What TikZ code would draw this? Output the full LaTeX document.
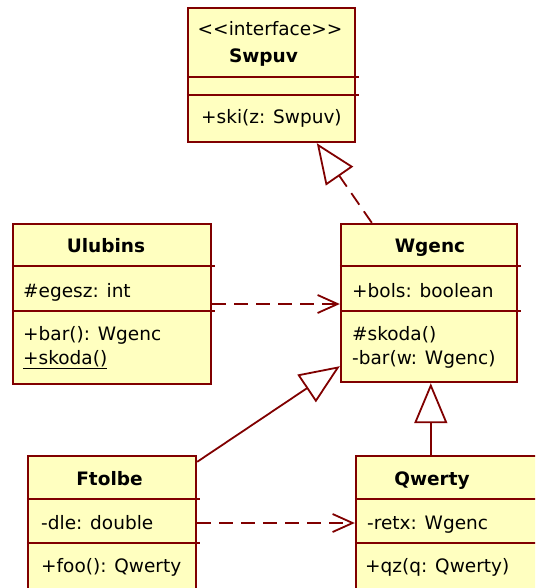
\documentclass[tikz,border=0pt]{standalone}
\usepackage{fontspec}
\setmainfont{DejaVu Sans}
\usetikzlibrary{calc,arrows.meta}
\definecolor{umlred}{RGB}{128,0,0}
\definecolor{umlfill}{RGB}{255,255,192}

\begin{document}
\begin{tikzpicture}[x=1pt,y=-1pt,
    classbox/.style={draw=umlred,fill=umlfill,line width=2.4pt,inner sep=0pt},
    compline/.style={umlred,line width=2.4pt},
    member/.style={anchor=base west,inner sep=0pt,font=\fontsize{18.5pt}{22pt}\selectfont},
    classname/.style={anchor=base,inner sep=0pt,font=\fontsize{18.5pt}{22pt}\selectfont\bfseries},
    realize/.style={umlred,line width=1.8pt,dash pattern=on 14pt off 8pt,-{Triangle[open,length=40pt,width=33pt]}},
    generalize/.style={umlred,line width=1.8pt,-{Triangle[open,length=40pt,width=33pt]}},
    depend/.style={umlred,line width=1.8pt,dash pattern=on 14pt off 8pt,-{Straight Barb[length=20pt,width=18pt]}}]
    \useasboundingbox (0,0) rectangle (535,588);
    \clip (0,0) rectangle (535,588);

    % Draw class boxes
    \node[classbox,minimum width=167,minimum height=134] (swpuv) at (271.5,75) {};
    \node[classbox,minimum width=198,minimum height=160] (ulubins) at (112,304) {};
    \node[classbox,minimum width=176,minimum height=158] (wgenc) at (429,303) {};
    \node[classbox,minimum width=168,minimum height=134] (ftolbe) at (112,523) {};
    \node[classbox,minimum width=189,minimum height=134] (qwerty) at (450.5,523) {};

    % Compartment lines
    \draw[compline] ($(swpuv.north west)+(0,70)$) -- ($(swpuv.north east)+(3,70)$);
    \draw[compline] ($(swpuv.north west)+(0,88)$) -- ($(swpuv.north east)+(3,88)$);
    \draw[compline] ($(ulubins.north west)+(0,43)$) -- ($(ulubins.north east)+(3,43)$);
    \draw[compline] ($(ulubins.north west)+(0,88)$) -- ($(ulubins.north east)+(3,88)$);
    \draw[compline] ($(wgenc.north west)+(0,43)$) -- ($(wgenc.north east)+(3,43)$);
    \draw[compline] ($(wgenc.north west)+(0,88)$) -- ($(wgenc.north east)+(3,88)$);
    \draw[compline] ($(ftolbe.north west)+(0,44)$) -- ($(ftolbe.north east)+(3,44)$);
    \draw[compline] ($(ftolbe.north west)+(0,88)$) -- ($(ftolbe.north east)+(3,88)$);
    \draw[compline] ($(qwerty.north west)+(0,44)$) -- ($(qwerty.north east)+(3,44)$);
    \draw[compline] ($(qwerty.north west)+(0,88)$) -- ($(qwerty.north east)+(3,88)$);

    % Swpuv
    \node[member,anchor=base] (swpuvStereo) at (270,36) {<{}<interface>{}>};
    \node[classname] (swpuvName) at (263.5,63) {Swpuv};
    \node[member] (swpuvOp) at (201,124) {+ski(z: Swpuv)};

    % Ulubins
    \node[classname] (ulubinsName) at (106,252) {Ulubins};
    \node[member] (ulubinsAttr) at (23,297) {\#egesz: int};
    \node[member] (ulubinsOpA) at (23,340) {+bar(): Wgenc};
    \node[member] (ulubinsOpB) at (23,364) {\underline{+skoda()}};

    % Wgenc
    \node[classname] (wgencName) at (430,252) {Wgenc};
    \node[member] (wgencAttr) at (352,297) {+bols: boolean};
    \node[member] (wgencOpA) at (352,340) {\#skoda()};
    \node[member] (wgencOpB) at (352,364) {-bar(w: Wgenc)};

    % Ftolbe
    \node[classname] (ftolbeName) at (109.5,485) {Ftolbe};
    \node[member] (ftolbeAttr) at (41,529) {-dle: double};
    \node[member] (ftolbeOp) at (41,572) {+foo(): Qwerty};

    % Qwerty
    \node[classname] (qwertyName) at (432,485) {Qwerty};
    \node[member] (qwertyAttr) at (367,529) {-retx: Wgenc};
    \node[member] (qwertyOp) at (365,572) {+qz(q: Qwerty)};

    % Realization and generalization
    \coordinate (qwertyTop) at ($(qwerty.north west)+(76,0)$);
    \draw[realize] ($(wgenc.north west)+(32,0)$) -- ($(swpuv.south west)+(130,0)$);
    \draw[generalize] ($(ftolbe.north east)+(0,7)$) -- ($(wgenc.south west)+(0,-17)$);
    \draw[generalize] (qwertyTop) -- (qwertyTop |- wgenc.south);

    % Dependencies
    \draw[depend] (ulubins.east) -- (ulubins.east -| wgenc.west);
    \draw[depend] (ftolbe.east) -- (ftolbe.east -| qwerty.west);
\end{tikzpicture}
\end{document}
